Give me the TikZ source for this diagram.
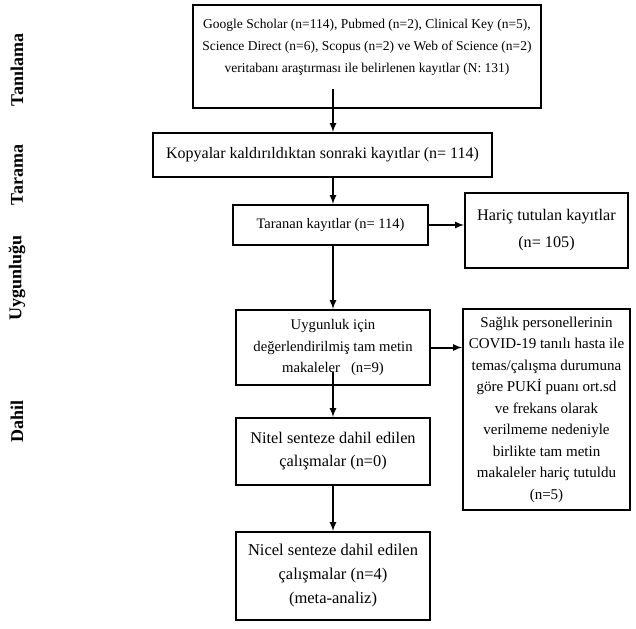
\documentclass[tikz,border=0pt]{standalone}
\usepackage{fontspec}
\setmainfont{Liberation Serif}
\usetikzlibrary{calc,arrows,positioning}

\begin{document}
\begin{tikzpicture}[x=1pt,y=-1pt,>=latex,font=\fontsize{16}{23}\selectfont]

\tikzset{flowbox/.style={draw,line width=2pt,align=center,inner sep=0pt,minimum width=194pt},
phase/.style={rotate=90,font=\fontsize{18}{20}\selectfont\bfseries},
flow/.style={->,line width=2pt}}

\useasboundingbox (0,0) rectangle (636,628);

% Phase labels
\node[phase] (lblTan) at (17,70) {Tanılama};
\node[phase] (lblTar) at (17,175) {Tarama};
\node[phase] (lblUyg) at (17,278) {Uygunluğu};
\node[phase] (lblDah) at (17,421) {Dahil};

% Main column
\node[flowbox,minimum width=348pt,minimum height=103pt,font=\fontsize{13.5}{22}\selectfont] (search) at (367,56.5)
  {Google Scholar (n=114), Pubmed (n=2), Clinical Key (n=5),\\ Science Direct (n=6), Scopus (n=2) ve Web of Science (n=2)\\ veritabanı araştırması ile belirlenen kayıtlar (N: 131)\\ ~};
\node[flowbox,minimum width=339pt,minimum height=44pt] (copies) at (322.5,155) {Kopyalar kaldırıldıktan sonraki kayıtlar (n= 114)};
\node[flowbox,minimum width=195pt,minimum height=40pt,font=\fontsize{14.5}{21}\selectfont] (screened) at (330.5,225) {Taranan kayıtlar (n= 114)};
\node[flowbox,minimum height=75pt,font=\fontsize{14.7}{21.5}\selectfont] (eligible) at (333,347.5) {Uygunluk için\\ değerlendirilmiş tam metin\\ makaleler \ \ (n=9)};
\node[flowbox,minimum height=67pt,font=\fontsize{16.3}{23}\selectfont] (qualit) at (333,451.5) {Nitel senteze dahil edilen\\ çalışmalar (n=0)};
\node[flowbox,minimum height=88pt,font=\fontsize{16.5}{24}\selectfont] (quant) at (333,576) {Nicel senteze dahil edilen\\ çalışmalar (n=4)\\ (meta-analiz)};

% Excluded boxes
\node[flowbox,minimum width=163pt,minimum height=75pt,font=\fontsize{16.2}{27}\selectfont] (excl) at (546.5,230.5) {Hariç tutulan kayıtlar\\ (n= 105)};
\node[flowbox,minimum width=167pt,minimum height=201pt,font=\fontsize{15}{21.5}\selectfont] (exclFull) at (546.5,409.5)
  {Sağlık personellerinin\\ COVID-19 tanılı hasta ile\\ temas/çalışma durumuna\\ göre PUKİ puanı ort.sd\\ ve frekans olarak\\ verilmeme nedeniyle\\ birlikte tam metin\\ makaleler hariç tutuldu\\ (n=5)};

% Arrows
\coordinate (searchOut) at (333,89);
\coordinate (eligibleOut) at (333,372);
\draw[flow] (searchOut) -- (searchOut |- copies.north);
\draw[flow] (searchOut |- copies.south) -- (searchOut |- screened.north);
\draw[flow] (searchOut |- screened.south) -- (eligible.north);
\draw[flow] (eligibleOut) -- (qualit.north);
\draw[flow] (qualit.south) -- (quant.north);
\draw[flow] (screened.east) -- (screened.east -| excl.west);
\draw[flow] (eligible.east) -- (eligible.east -| exclFull.west);

\end{tikzpicture}
\end{document}
